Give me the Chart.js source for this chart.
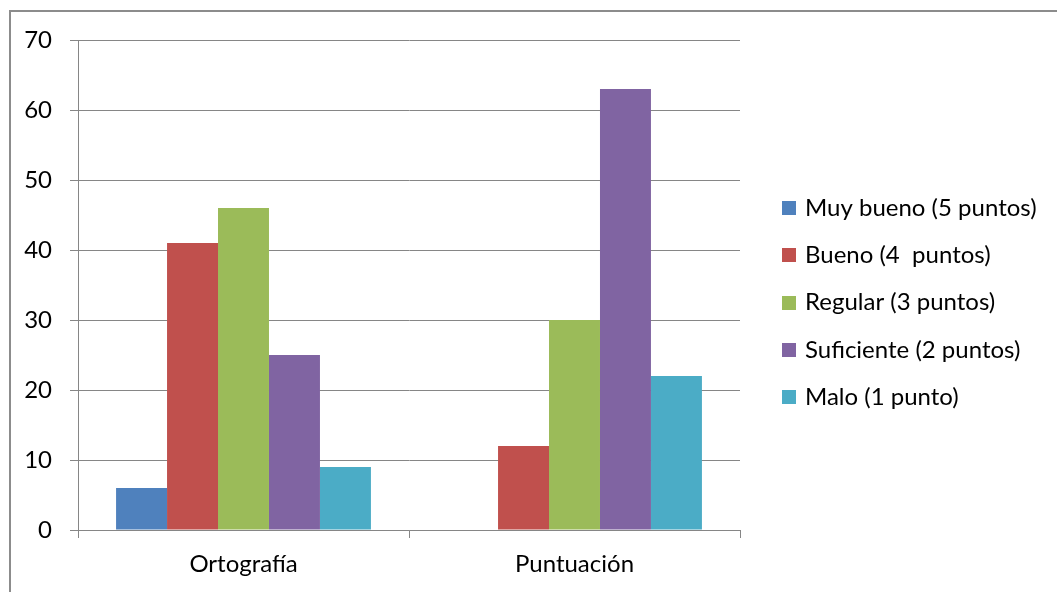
<!DOCTYPE html>
<html>
<head>
<meta charset="utf-8">
<script src="https://cdn.jsdelivr.net/npm/chart.js@4/dist/chart.umd.min.js"></script>
<style>
  html, body { margin: 0; padding: 0; background: #fff; overflow: hidden; }
  #frame {
    position: absolute; left: 9px; top: 10px; width: 1200px; height: 800px;
    border-top: 2px solid #8c8c8c; border-left: 2px solid #8c8c8c;
  }
  #wrap { position: absolute; left: 0; top: 0; width: 1057px; height: 592px; }
</style>
</head>
<body>
<div id="frame"></div>
<div id="wrap"><canvas id="chart"></canvas></div>
<script>
const categories = ["Ortografía", "Puntuación"];
const seriesNames = [
  "Muy bueno (5 puntos)",
  "Bueno (4  puntos)",
  "Regular (3 puntos)",
  "Suficiente (2 puntos)",
  "Malo (1 punto)"
];
const muyBueno = [6, 0];
const bueno = [41, 12];
const regular = [46, 30];
const suficiente = [25, 63];
const malo = [9, 22];
const yTicks = [0, 10, 20, 30, 40, 50, 60, 70];

const seriesValues = [muyBueno, bueno, regular, suficiente, malo];
const colors = ["#4f81bd", "#c0504d", "#9bbb59", "#8064a2", "#4bacc6"];
const gray = "#868686";
const font = { family: "Lato, 'Liberation Sans', sans-serif", size: 24 };

// legend drawn to the right of the plot, Excel style
const sideLegend = {
  id: "sideLegend",
  afterDraw(chart) {
    const ctx = chart.ctx;
    const boxX = 782, boxSize = 14, textX = 805, firstY = 208, step = 47.3;
    ctx.save();
    ctx.font = `${font.size}px ${font.family}`;
    ctx.textBaseline = "middle";
    ctx.textAlign = "left";
    chart.data.datasets.forEach((ds, i) => {
      const y = firstY + i * step;
      ctx.fillStyle = ds.backgroundColor;
      ctx.fillRect(boxX, Math.round(y - boxSize / 2), boxSize, boxSize);
      ctx.fillStyle = "#000";
      ctx.fillText(ds.label, textX, y);
    });
    ctx.restore();
  }
};

const chart = new Chart("chart", {
  type: "bar",
  data: {
    labels: categories,
    datasets: seriesNames.map((name, i) => ({
      label: name,
      data: seriesValues[i],
      backgroundColor: colors[i],
      borderWidth: 0,
      categoryPercentage: 0.77,
      barPercentage: 1
    }))
  },
  options: {
    responsive: true,
    maintainAspectRatio: false,
    animation: false,
    layout: { padding: { left: 10, top: 40, bottom: 0, right: 317 } },
    plugins: {
      tooltip: { enabled: false },
      legend: { display: false }
    },
    scales: {
      x: {
        grid: {
          display: true,
          drawOnChartArea: false,
          drawTicks: true,
          tickLength: 8,
          offset: true,
          color: gray
        },
        border: { display: true, color: gray },
        ticks: { color: "#000", font: font, padding: 12 },
        afterFit: s => { s.height = 62; }
      },
      y: {
        min: 0,
        max: 70,
        afterBuildTicks: s => { s.ticks = yTicks.map(v => ({ value: v })); },
        grid: { color: gray, tickLength: 8 },
        border: { display: true, color: gray },
        ticks: { color: "#000", font: font, padding: 18 },
        afterFit: s => { s.width = 68; }
      }
    }
  },
  plugins: [sideLegend]
});
</script>
</body>
</html>
